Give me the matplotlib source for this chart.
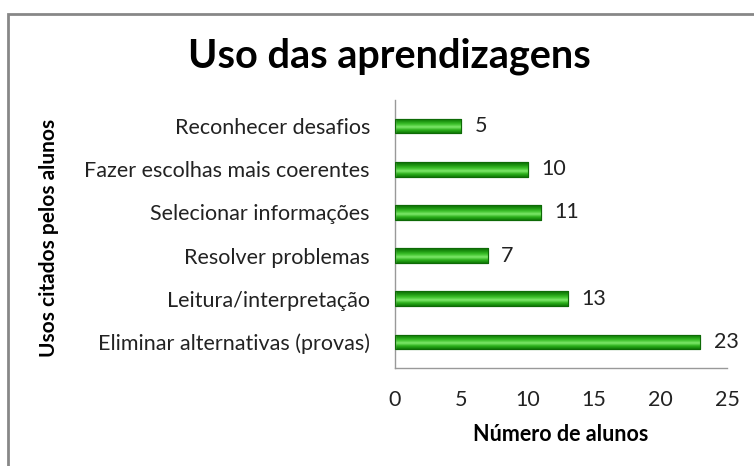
import matplotlib
matplotlib.use("Agg")
import matplotlib.pyplot as plt
import numpy as np
from matplotlib.patches import Rectangle
from matplotlib.colors import LinearSegmentedColormap

categories = ["Eliminar alternativas (provas)", "Leitura/interpretação", "Resolver problemas",
              "Selecionar informações", "Fazer escolhas mais coerentes", "Reconhecer desafios"]
values = [23, 13, 7, 11, 10, 5]
xticks = [0, 5, 10, 15, 20, 25]

plt.rcParams['font.family'] = ['Lato', 'DejaVu Sans']

fig = plt.figure(figsize=(7.54, 4.66), dpi=100)
fig.patches.append(Rectangle((8/754, -0.01), 1.0, 1 - 14/466 + 0.01, transform=fig.transFigure,
                             fill=False, edgecolor="#878787", linewidth=2))
ax = fig.add_axes([395/754, 1 - 368/466, 332/754, 268/466])

y = np.arange(len(categories))
bars = ax.barh(y, values, height=0.34, color="#22a512", edgecolor="#0e6a06", linewidth=0.8, zorder=2)

cmap = LinearSegmentedColormap.from_list("g", ["#0f7a07", "#2cb01b", "#7ee86a", "#3cc02a", "#1c9410", "#0d6a05"])
grad = np.linspace(0, 1, 64).reshape(-1, 1)
for b in bars:
    x0, y0, w, h = b.get_x(), b.get_y(), b.get_width(), b.get_height()
    im = ax.imshow(grad, cmap=cmap, aspect="auto", extent=[x0, x0 + w, y0, y0 + h],
                   origin="lower", zorder=2.5)
    im.set_clip_path(b)
    ax.barh(b.get_y() + h / 2, w, height=h, fill=False, edgecolor="#0e6a06", linewidth=0.8, zorder=3)

for yi, v in zip(y, values):
    ax.text(v + 1.0, yi, str(v), va="center", ha="left", fontsize=15.5, color="#222222")

ax.set_xlim(0, 25)
ax.set_ylim(-0.6, len(categories) - 0.4)
ax.set_xticks(xticks)
ax.set_yticks(y)
ax.set_yticklabels(categories, fontsize=15.5)
ax.tick_params(axis="both", length=0, labelsize=15.5, colors="#222222")
ax.tick_params(axis="x", pad=16)
ax.tick_params(axis="y", pad=18)
for s in ["top", "right"]:
    ax.spines[s].set_visible(False)
for s in ["left", "bottom"]:
    ax.spines[s].set_color("#999999")
    ax.spines[s].set_linewidth(1)

ax.set_xlabel("Número de alunos", fontsize=15.5, fontweight="bold", labelpad=10)
fig.text(49/754, 1 - 238/466, "Usos citados pelos alunos", rotation=90, fontsize=15,
         fontweight="bold", ha="center", va="center")
fig.text(389/754, 1 - 56/466, "Uso das aprendizagens", fontsize=28.5, fontweight="bold",
         ha="center", va="center")

fig.savefig("out.png", dpi=100)
